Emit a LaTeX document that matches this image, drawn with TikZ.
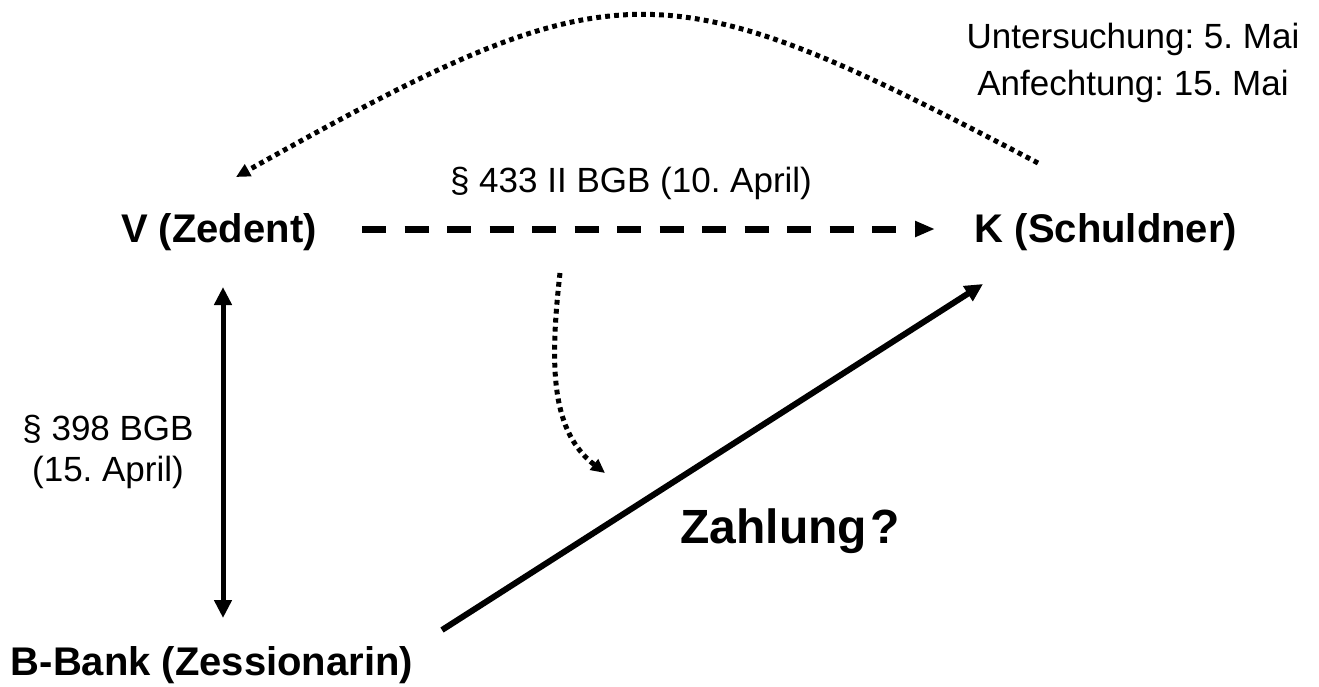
\documentclass[tikz,border=0pt]{standalone}
\usepackage{fontspec}
\setmainfont{Liberation Sans}
\usetikzlibrary{arrows.meta}
\begin{document}
\frenchspacing
\begin{tikzpicture}[x=1pt,y=-1pt,
  lbl/.style={inner sep=0pt, anchor=base, font=\fontsize{40}{48}\selectfont\bfseries},
  txt/.style={inner sep=0pt, font=\fontsize{35}{42}\selectfont},
  dotline/.style={line width=5pt, dash pattern=on 4.8pt off 4.2pt},
  dotarrow/.style={dotline, -{Triangle[length=14pt,width=13pt]}},
  dasharrow/.style={line width=7pt, dash pattern=on 24pt off 18.5pt, -{Triangle[length=20pt,width=15pt]}},
  solidarrow/.style={line width=6pt, -{Triangle[length=18pt,width=17pt]}},
  dblarrow/.style={line width=5pt, {Triangle[length=18pt,width=17pt]}-{Triangle[length=18pt,width=17pt]}}
]
\useasboundingbox (0,0) rectangle (1319,686);
\fill[white] (0,0) rectangle (1319,686);

% nodes
\node[lbl] (V) at (219,242) {V (Zedent)};
\node[lbl] (K) at (1106,242) {K (Schuldner)};
\node[lbl] (B) at (212,675) {B-Bank (Zessionarin)};
\node[txt, anchor=base] (p433) at (631,192) {§ 433 II BGB (10. April)};
\node[txt, align=center, font=\fontsize{35}{41}\selectfont] (p398) at (108,452) {§ 398 BGB\\(15. April)};
\node[txt, align=center, font=\fontsize{35}{46.7}\selectfont] (unt) at (1133,63) {Untersuchung: 5. Mai\\Anfechtung: 15. Mai};
\node[inner sep=0pt, anchor=base, font=\fontsize{48}{56}\selectfont\bfseries] (zahl) at (790,543) {Zahlung\kern3pt?};

% connector end points
\coordinate (dS) at (362,229);
\coordinate (dE) at (935,229);
\coordinate (vT) at (223,287);
\coordinate (vB) at (223,618);
\coordinate (sS) at (442,630);
\coordinate (sE) at (983,284);
\coordinate (aS) at (1038,163);
\coordinate (aE) at (236,177);
\coordinate (cS) at (560,273);
\coordinate (cE) at (605,473);

% connectors
\draw[dasharrow] (dS) -- (dE);
\draw[dblarrow] (vT) -- (vB);
\draw[solidarrow] (sS) -- (sE);
\draw[dotarrow] (aS) .. controls (660,-35) and (620,-38) .. (aE);
\draw[dotarrow] (cS) .. controls (549,370) and (552,432) .. (cE);
\end{tikzpicture}
\end{document}
